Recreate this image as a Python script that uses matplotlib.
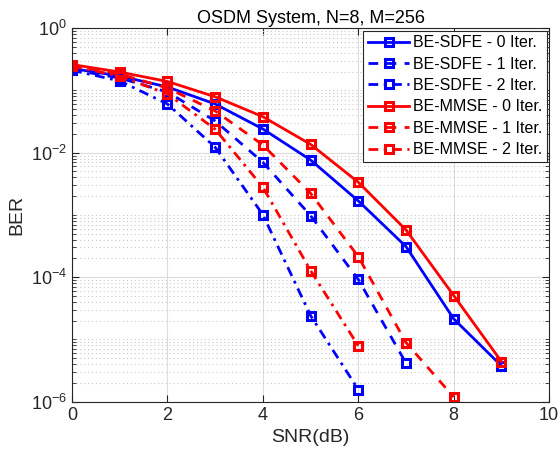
import numpy as np
import matplotlib
matplotlib.use("Agg")
import matplotlib.pyplot as plt
from matplotlib.ticker import LogLocator, NullFormatter

plt.rcParams['font.family'] = ['Liberation Sans', 'DejaVu Sans']
plt.rcParams['mathtext.fontset'] = 'custom'
plt.rcParams['mathtext.rm'] = 'Liberation Sans'

# snr axis (dB)
snr = [0, 1, 2, 3, 4, 5, 6, 7, 8, 9]

# BER
sdfe_0 = [0.225, 0.170, 0.1135, 0.0605, 0.024, 0.00763, 0.00168, 3.1e-4, 2.14e-5, 3.77e-6]
sdfe_1 = [0.215, 0.158, 0.094, 0.0323, 0.0070, 9.75e-4, 9.2e-5, 4.17e-6]
sdfe_2 = [0.21, 0.142, 0.0605, 0.0122, 0.00101, 2.42e-5, 1.57e-6]
mmse_0 = [0.26, 0.197, 0.139, 0.079, 0.0378, 0.0136, 0.00335, 5.74e-4, 5.07e-5, 4.42e-6]
mmse_1 = [0.25, 0.183, 0.109, 0.0467, 0.0133, 0.00223, 2.14e-4, 8.9e-6, 1.19e-6]
mmse_2 = [0.245, 0.170, 0.0876, 0.0238, 0.00279, 1.28e-4, 7.9e-6]

labels = ['BE-SDFE - 0 Iter.', 'BE-SDFE - 1 Iter.', 'BE-SDFE - 2 Iter.',
          'BE-MMSE - 0 Iter.', 'BE-MMSE - 1 Iter.', 'BE-MMSE - 2 Iter.']

# matlab-ish dash patterns (in units of line width)
dash = (0, (3.5, 3))
dashdot = (0, (3.5, 2, 1, 2))

fig = plt.figure(figsize=(5.6, 4.61), dpi=100)
ax = fig.add_axes([0.1286, 0.1286, 0.852, 0.8104])

series = [(sdfe_0, 'b', '-'), (sdfe_1, 'b', dash), (sdfe_2, 'b', dashdot),
          (mmse_0, 'r', '-'), (mmse_1, 'r', dash), (mmse_2, 'r', dashdot)]
for (vals, c, ls), lab in zip(series, labels):
    ax.semilogy(snr[:len(vals)], vals, color=c, linestyle=ls, lw=2, marker='s',
                ms=5.5, mfc='none', mew=2.2, label=lab)

ax.set_xlim(0, 10)
ax.set_ylim(1e-6, 1)
ax.set_xticks([0, 2, 4, 6, 8, 10])
ax.set_yticks([1e-6, 1e-4, 1e-2, 1])
ax.yaxis.set_minor_locator(LogLocator(base=10, subs=np.arange(1, 10), numticks=20))
ax.yaxis.set_minor_formatter(NullFormatter())

ax.grid(True, which='major', color='#dcdcdc', lw=0.8)
ax.grid(True, which='minor', axis='y', color='#c8c8c8', lw=0.8, linestyle=(0, (1, 2.5)))
ax.set_axisbelow(True)

ax.tick_params(which='both', direction='in', top=True, right=True, labelsize=13,
               colors='#262626')
ax.tick_params(which='major', length=5)
ax.tick_params(which='minor', length=3)
for s in ax.spines.values():
    s.set_color('#262626')
    s.set_linewidth(0.8)

ax.set_xlabel('SNR(dB)', fontsize=14, color='#262626')
ax.set_ylabel('BER', fontsize=14, color='#262626')
ax.set_title('OSDM System, N=8, M=256', fontsize=13, color='black', pad=4)

leg = ax.legend(loc='upper right', fontsize=11.5, handlelength=2.6, borderaxespad=0.15,
                fancybox=False, edgecolor='#262626', framealpha=1,
                labelspacing=0.4, handletextpad=0.2, borderpad=0.3)
leg.get_frame().set_linewidth(0.8)

fig.savefig('out.png', dpi=100)
